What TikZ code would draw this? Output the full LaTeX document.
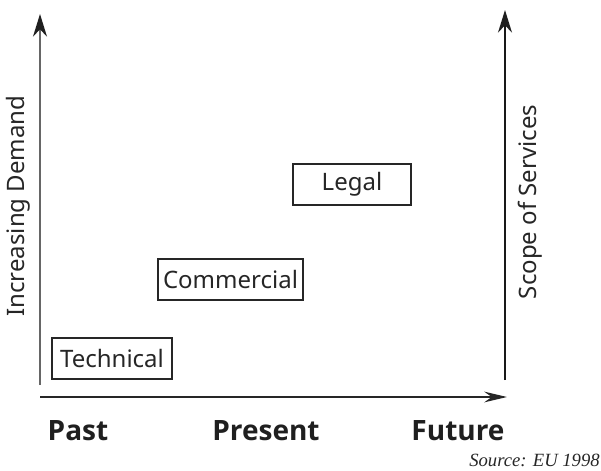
\documentclass[tikz,border=0pt]{standalone}
\usepackage{fontspec}
\setmainfont{Noto Sans}
\newfontfamily\erafont{Open Sans}
\newfontfamily\srcfont{Liberation Serif}
\usetikzlibrary{arrows.meta}
\begin{document}
\begin{tikzpicture}[x=0.75pt,y=-0.75pt,
  axisline/.style={line width=1.3pt,draw=#1},
  vtip/.style={-{Stealth[length=17pt,width=10.5pt,color=black!88]}},
  htip/.style={-{Stealth[length=17pt,width=8pt]}},
  stage/.style={draw=black!85,line width=0.9pt,inner sep=0pt,minimum height=30.75pt,font=\fontsize{18}{21}\selectfont,text=black!85},
  era/.style={font=\erafont\fontsize{21}{25}\selectfont\bfseries,text=black!88,anchor=base},
  sidelabel/.style={font=\fontsize{18}{21}\selectfont,text=black!85,rotate=90}]
\useasboundingbox (0,0) rectangle (601,471);
% axes
\coordinate (lb) at (40,385);
\coordinate (lt) at (40,14);
\coordinate (hb) at (40,397);
\coordinate (ht) at (507,397);
\coordinate (rb) at (505,380);
\coordinate (rt) at (505,10);
\draw[axisline=black!60,vtip] (lb) -- (lt);
\draw[axisline=black!85,htip] (hb) -- (ht);
\draw[axisline=black!90,vtip] (rb) -- (rt);
% boxes
\node[stage,minimum width=90pt] (tech) at (112,358.5) {Technical};
\node[stage,minimum width=108.75pt] (comm) at (230.5,279.5) {Commercial};
\node[stage,minimum width=88.5pt] (legal) at (352,184.5) {Legal};
% side labels
\node[sidelabel] (dem) at (18,206) {Increasing Demand};
\node[sidelabel] (scope) at (530,202) {Scope of Services};
% era labels
\node[era] (past) at (78,440) {Past};
\node[era] (present) at (266,440) {Present};
\node[era] (future) at (458,440) {Future};
% source
\node[anchor=base east,font=\srcfont\fontsize{14}{16}\selectfont\itshape,text=black!85,inner sep=0pt] (src) at (600,466) {Source: EU 1998};
\end{tikzpicture}
\end{document}
